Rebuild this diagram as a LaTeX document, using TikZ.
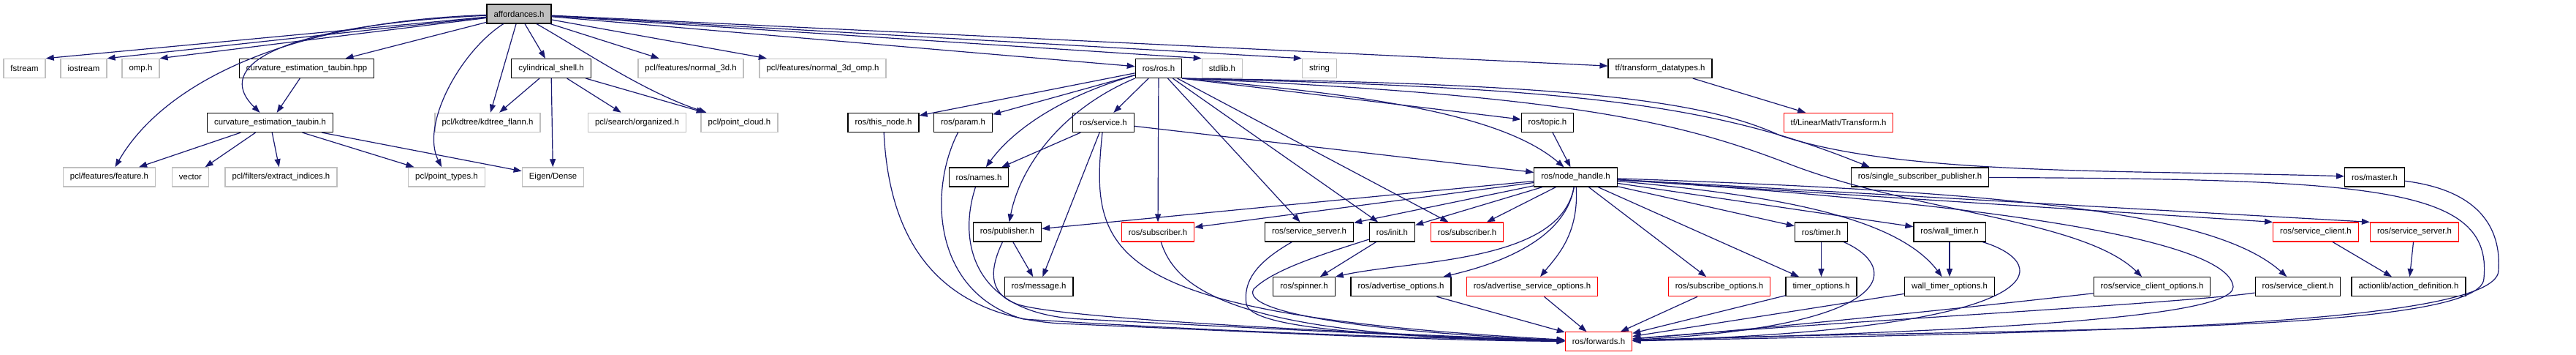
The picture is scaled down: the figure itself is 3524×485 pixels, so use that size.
\documentclass[tikz,border=0pt]{standalone}
\usepackage{fontspec}
\setmainfont{Liberation Sans}
\usetikzlibrary{arrows.meta}
\definecolor{grayline}{HTML}{BFBFBF}
\definecolor{edgeblue}{HTML}{191970}

\begin{document}
\begin{tikzpicture}[x=0.5pt,y=-0.5pt,
  hdr/.style={draw=black,line width=0.6pt,minimum height=13pt,inner xsep=4.75pt,inner ysep=0pt,font=\fontsize{5.7pt}{6.5pt}\selectfont},
  syshdr/.style={hdr,draw=grayline,line width=0.75pt},
  cuthdr/.style={hdr,draw=red},
  mainhdr/.style={hdr,fill=grayline},
  incl/.style={draw=edgeblue,line width=0.6pt,-{Triangle[length=5.5pt,width=4pt]}}]

\useasboundingbox (0,0) rectangle (3524,485);

% the file itself
\node (aff) at (710,19) [mainhdr] {affordances.h};

% first level
\node (fstream) at (33.5,93.5) [syshdr] {fstream};
\node (iostream) at (114.5,93.5) [syshdr] {iostream};
\node (omp) at (192.5,93.5) [syshdr] {omp.h};
\node (cethpp) at (419.5,93.5) [hdr] {curvature\_estimation\_taubin.hpp};
\node (cyl) at (754,93.5) [hdr] {cylindrical\_shell.h};
\node (nthreed) at (945,93.5) [syshdr] {pcl/features/normal\_3d.h};
\node (nthreedomp) at (1125.5,93.5) [syshdr] {pcl/features/normal\_3d\_omp.h};
\node (rosh) at (1585,93.5) [hdr] {ros/ros.h};
\node (stdlib) at (1672,93.5) [syshdr] {stdlib.h};
\node (string) at (1805,93.5) [syshdr] {string};
\node (tfdt) at (2271,93.5) [hdr] {tf/transform\_datatypes.h};

% second level
\node (ceth) at (369.5,167.5) [hdr] {curvature\_estimation\_taubin.h};
\node (kdtree) at (667,167.5) [syshdr] {pcl/kdtree/kdtree\_flann.h};
\node (organized) at (871.5,167.5) [syshdr] {pcl/search/organized.h};
\node (pcloud) at (1011.5,167.5) [syshdr] {pcl/point\_cloud.h};
\node (thisnode) at (1208.5,167.5) [hdr] {ros/this\_node.h};
\node (param) at (1317.5,167.5) [hdr] {ros/param.h};
\node (service) at (1509.5,167.5) [hdr] {ros/service.h};
\node (topic) at (2117,167.5) [hdr] {ros/topic.h};
\node (tflm) at (2515,167.5) [cuthdr] {tf/LinearMath/Transform.h};

% third level
\node (feature) at (149.5,242) [syshdr] {pcl/features/feature.h};
\node (vector) at (260.5,242) [syshdr] {vector};
\node (extract) at (384.5,242) [syshdr] {pcl/filters/extract\_indices.h};
\node (ptypes) at (611,242) [syshdr] {pcl/point\_types.h};
\node (eigen) at (756.5,242) [syshdr] {Eigen/Dense};
\node (names) at (1339,242) [hdr] {ros/names.h};
\node (nodeh) at (2155.5,242) [hdr] {ros/node\_handle.h};
\node (ssp) at (2626.5,242) [hdr] {ros/single\_subscriber\_publisher.h};
\node (master) at (3248.5,242) [hdr] {ros/master.h};

% fourth level
\node (publisher) at (1378,317) [hdr] {ros/publisher.h};
\node (subA) at (1584,317) [cuthdr] {ros/subscriber.h};
\node (srvserver) at (1791,317) [hdr] {ros/service\_server.h};
\node (init) at (1904.5,317) [hdr] {ros/init.h};
\node (subB) at (2007,317) [cuthdr] {ros/subscriber.h};
\node (timer) at (2491.5,317) [hdr] {ros/timer.h};
\node (walltimer) at (2667,317) [hdr] {ros/wall\_timer.h};
\node (srvclientR) at (3168,317) [cuthdr] {ros/service\_client.h};
\node (srvserverR) at (3303,317) [cuthdr] {ros/service\_server.h};

% fifth level
\node (message) at (1421,391.7) [hdr] {ros/message.h};
\node (spinner) at (1784,391.7) [hdr] {ros/spinner.h};
\node (advopt) at (1916.5,391.7) [hdr] {ros/advertise\_options.h};
\node (advsrvopt) at (2096,391.7) [cuthdr] {ros/advertise\_service\_options.h};
\node (subopt) at (2352,391.7) [cuthdr] {ros/subscribe\_options.h};
\node (timeropt) at (2491.5,391.7) [hdr] {timer\_options.h};
\node (walltimeropt) at (2667,391.7) [hdr] {wall\_timer\_options.h};
\node (srvclientopt) at (2944,391.7) [hdr] {ros/service\_client\_options.h};
\node (srvclient) at (3143.5,391.7) [hdr] {ros/service\_client.h};
\node (actiondef) at (3295,391.7) [hdr] {actionlib/action\_definition.h};

% bottom
\node (forwards) at (2187,466.8) [cuthdr] {ros/forwards.h};

% affordances.h includes
\draw[incl] (aff) -- (fstream.north east);
\draw[incl] (aff) -- (iostream.north east);
\draw[incl] (aff) -- (omp.north east);
\draw[incl] (aff) -- (cethpp);
\draw[incl] (aff) .. controls (380,35) and (290,90) .. (ceth);
\draw[incl] (aff) .. controls (380,30) and (220,120) .. (feature);
\draw[incl] (aff) .. controls (630,70) and (575,170) .. (ptypes);
\draw[incl] (aff) -- (kdtree);
\draw[incl] (aff) -- (cyl);
\draw[incl] (aff) .. controls (800,70) and (880,125) .. ([xshift=4pt]pcloud.north west);
\draw[incl] (aff) -- (nthreed);
\draw[incl] (aff) -- (nthreedomp);
\draw[incl] (aff) -- (rosh);
\draw[incl] (aff) -- (stdlib.north west);
\draw[incl] (aff) -- (string.north west);
\draw[incl] (aff) -- (tfdt);

% curvature and cylinder
\draw[incl] (cethpp) -- (ceth);
\draw[incl] (ceth) -- (feature);
\draw[incl] (ceth) -- (vector);
\draw[incl] (ceth) -- (extract);
\draw[incl] (ceth) -- (ptypes);
\draw[incl] (ceth) -- (eigen);
\draw[incl] (cyl) -- (kdtree);
\draw[incl] (cyl) -- (eigen);
\draw[incl] (cyl) -- (organized);
\draw[incl] (cyl) -- (pcloud);
\draw[incl] (tfdt) -- (tflm);

% ros/ros.h
\draw[incl] (rosh) -- (thisnode);
\draw[incl] (rosh) -- (param);
\draw[incl] (rosh) .. controls (1440,135) and (1380,185) .. (names);
\draw[incl] (rosh) .. controls (1450,150) and (1395,230) .. (publisher);
\draw[incl] (rosh) -- (service);
\draw[incl] (rosh) -- (subA);
\draw[incl] (rosh) -- (srvserver);
\draw[incl] (rosh) -- (init);
\draw[incl] (rosh) -- (subB);
\draw[incl] (rosh.south east) -- (topic);
\draw[incl] (rosh.south east) .. controls (1850,128) and (2050,152) .. (nodeh);
\draw[incl] (rosh.south east) .. controls (2150,120) and (2340,140) .. ([xshift=13pt]ssp.north west);
\draw[incl] (rosh.south east) .. controls (2150,114) and (2330,137) .. (2435,185) .. controls (2600,240) and (2900,232) .. (master);
\draw[incl] (rosh.south east) .. controls (2150,130) and (2300,167) .. (2450,225) .. controls (2620,290) and (2850,300) .. (srvclientopt);

% ros/service.h and ros/topic.h
\draw[incl] (service) -- (names);
\draw[incl] (service) -- (message);
\draw[incl] (service) -- (nodeh);
\draw[incl] (topic) -- (nodeh);

% ros/node_handle.h
\draw[incl] (nodeh) -- (publisher);
\draw[incl] (nodeh) -- (subA);
\draw[incl] (nodeh) -- (srvserver);
\draw[incl] (nodeh) -- (init);
\draw[incl] (nodeh) -- (subB);
\draw[incl] (nodeh) .. controls (2135,360) and (1930,355) .. (spinner.north east);
\draw[incl] (nodeh) .. controls (2140,335) and (2030,365) .. (advopt);
\draw[incl] (nodeh) .. controls (2160,320) and (2130,350) .. (advsrvopt);
\draw[incl] (nodeh) -- (subopt);
\draw[incl] (nodeh) -- (timeropt);
\draw[incl] (nodeh) -- (timer);
\draw[incl] (nodeh) .. controls (2400,265) and (2590,290) .. (walltimeropt);
\draw[incl] (nodeh) -- (walltimer);
\draw[incl] (nodeh) -- (srvclientR.north west);
\draw[incl] (nodeh) -- (srvserverR.north west);
\draw[incl] (nodeh) .. controls (2750,262) and (3030,290) .. (srvclient);

% fourth level includes
\draw[incl] (publisher) -- (message);
\draw[incl] (init) -- (spinner);
\draw[incl] (timer) -- (timeropt);
\draw[incl] (walltimer) -- (walltimeropt);
\draw[incl] (srvclientR) -- (actiondef);
\draw[incl] (srvserverR) -- (actiondef);

% everything down to ros/forwards.h
\draw[incl] (thisnode) .. controls (1215,300) and (1260,430) .. (1450,442) .. controls (1750,455) and (1950,465) .. (forwards);
\draw[incl] (param) .. controls (1270,260) and (1275,400) .. (1400,436) .. controls (1700,455) and (1950,462) .. (forwards);
\draw[incl] (names) .. controls (1310,330) and (1330,430) .. (1480,436) .. controls (1750,450) and (1950,460) .. (forwards);
\draw[incl] (publisher) .. controls (1355,365) and (1350,400) .. (1390,415) .. controls (1440,435) and (1850,455) .. (forwards);
\draw[incl] (service) .. controls (1490,350) and (1510,430) .. (forwards);
\draw[incl] (subA) .. controls (1610,400) and (1700,460) .. (forwards);
\draw[incl] (srvserver) .. controls (1725,355) and (1700,380) .. (1705,415) .. controls (1710,450) and (1900,460) .. (forwards);
\draw[incl] (init) .. controls (1800,350) and (1740,370) .. (1715,395) .. controls (1695,430) and (1900,455) .. (forwards);
\draw[incl] (advopt) -- (forwards);
\draw[incl] (advsrvopt) -- (forwards);
\draw[incl] (subopt) -- (forwards);
\draw[incl] (timeropt) -- (forwards);
\draw[incl] (timer) .. controls (2600,365) and (2600,445) .. (forwards);
\draw[incl] (walltimeropt) -- (forwards);
\draw[incl] (walltimer) .. controls (2810,360) and (2820,450) .. (forwards);
\draw[incl] (srvclientopt) .. controls (2650,425) and (2400,450) .. (forwards);
\draw[incl] (srvclient) .. controls (2980,415) and (2500,440) .. (forwards);
\draw[incl] (nodeh) .. controls (2750,280) and (3050,330) .. (3055,392) .. controls (3056,440) and (2600,455) .. (forwards);
\draw[incl] (ssp) .. controls (3250,245) and (3410,255) .. (3398,380) .. controls (3398,460) and (2700,448) .. (forwards);
\draw[incl] (master) .. controls (3390,260) and (3422,310) .. (3418,370) .. controls (3414,450) and (2750,455) .. (forwards);

\end{tikzpicture}
\end{document}
